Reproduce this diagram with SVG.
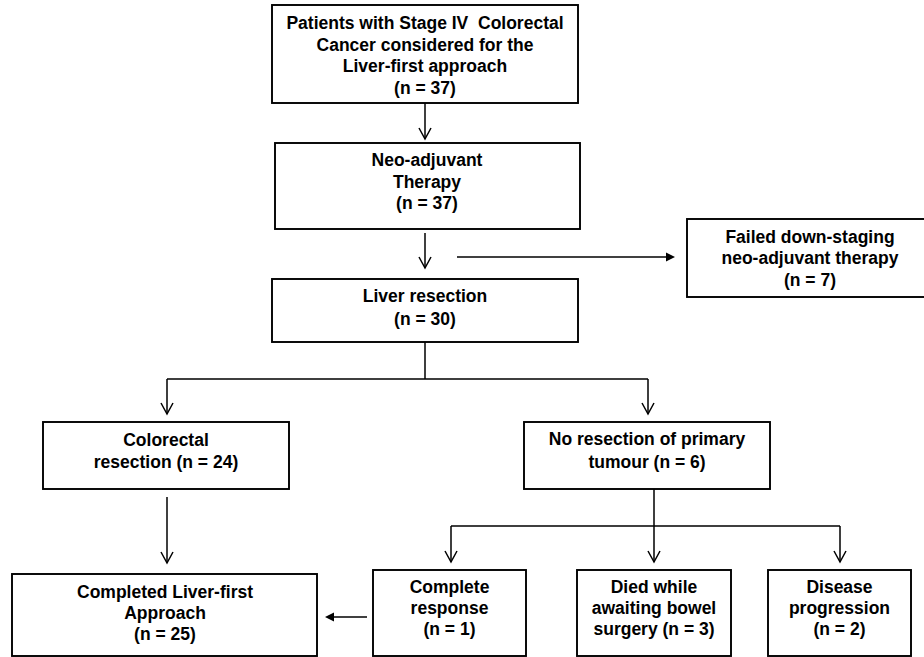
<svg xmlns="http://www.w3.org/2000/svg" width="924" height="657" viewBox="0 0 924 657">
<style>
.box{fill:#fff;stroke:#000;stroke-width:1.9}
.t{font-family:"Liberation Sans",Arial,sans-serif;font-weight:bold;font-size:17.5px;fill:#000;text-anchor:middle}
.ln{fill:none;stroke:#000;stroke-width:1.5}
.hd{fill:none;stroke:#000;stroke-width:1.5}
.fh{fill:#000;stroke:none}
</style>
<rect width="924" height="657" fill="#fff"/>
<g id="connectors">
<path class="ln" d="M425 103V139"/><path class="hd" d="M419 128L425 139L431 128"/>
<path class="ln" d="M425 233V268"/><path class="hd" d="M419 257L425 268L431 257"/>
<path class="ln" d="M457 257H667"/><path class="fh" d="M675 257L666 252.5V261.5Z"/>
<path class="ln" d="M425 342V379M167 379H648M167 379V414M648 379V414"/>
<path class="hd" d="M161 403L167 414L173 403M642 403L648 414L654 403"/>
<path class="ln" d="M167 497V563"/><path class="hd" d="M161 552L167 563L173 552"/>
<path class="ln" d="M654 489V562M451 526H840M451 526V562M840 526V562"/>
<path class="hd" d="M445 551L451 562L457 551M648 551L654 562L660 551M834 551L840 562L846 551"/>
<path class="ln" d="M367 617H333"/><path class="fh" d="M325 617L334 612.5V621.5Z"/>
</g>
<g id="n1"><rect class="box" x="272" y="5" width="306" height="98"/>
<text class="t" x="425" y="29">Patients with Stage IV&#160; Colorectal</text>
<text class="t" x="425" y="50.5">Cancer considered for the</text>
<text class="t" x="425" y="72">Liver-first approach</text>
<text class="t" x="425" y="93.5">(n = 37)</text></g>
<g id="n2"><rect class="box" x="275" y="143" width="305" height="86"/>
<text class="t" x="427" y="166">Neo-adjuvant</text>
<text class="t" x="427" y="188">Therapy</text>
<text class="t" x="427" y="209">(n = 37)</text></g>
<g id="n3"><rect class="box" x="687" y="219" width="250" height="78"/>
<text class="t" x="810" y="243">Failed down-staging</text>
<text class="t" x="810" y="264">neo-adjuvant therapy</text>
<text class="t" x="810" y="286">(n = 7)</text></g>
<g id="n4"><rect class="box" x="272" y="279" width="306" height="63"/>
<text class="t" x="425" y="302">Liver resection</text>
<text class="t" x="425" y="325">(n = 30)</text></g>
<g id="n5"><rect class="box" x="43" y="422" width="246" height="67"/>
<text class="t" x="166" y="446">Colorectal</text>
<text class="t" x="166" y="468">resection (n = 24)</text></g>
<g id="n6"><rect class="box" x="524" y="422" width="246" height="67"/>
<text class="t" x="647" y="445">No resection of primary</text>
<text class="t" x="647" y="468">tumour (n = 6)</text></g>
<g id="n7"><rect class="box" x="12" y="574" width="305" height="82"/>
<text class="t" x="165" y="598">Completed Liver-first</text>
<text class="t" x="165" y="619">Approach</text>
<text class="t" x="165" y="640">(n = 25)</text></g>
<g id="n8"><rect class="box" x="373" y="570" width="153" height="86"/>
<text class="t" x="449.5" y="593">Complete</text>
<text class="t" x="449.5" y="614">response</text>
<text class="t" x="449.5" y="635">(n = 1)</text></g>
<g id="n9"><rect class="box" x="577" y="570" width="154" height="86"/>
<text class="t" x="654" y="593">Died while</text>
<text class="t" x="654" y="614">awaiting bowel</text>
<text class="t" x="654" y="635">surgery (n = 3)</text></g>
<g id="n10"><rect class="box" x="768" y="570" width="143" height="86"/>
<text class="t" x="839.5" y="593">Disease</text>
<text class="t" x="839.5" y="614">progression</text>
<text class="t" x="839.5" y="635">(n = 2)</text></g>
</svg>
